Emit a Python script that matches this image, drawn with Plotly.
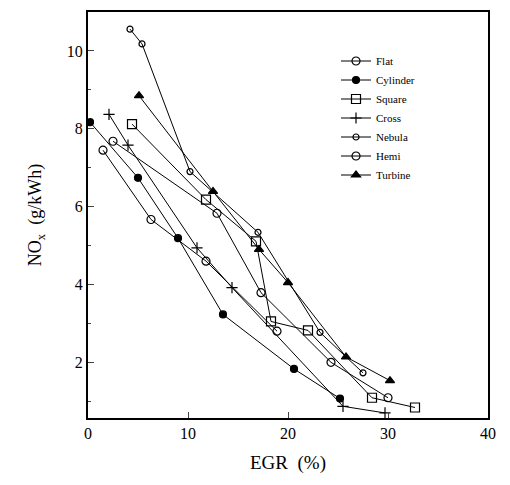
import plotly.graph_objects as go

flat_x = [1.5, 6.3, 11.8, 18.9]
flat_y = [7.45, 5.67, 4.6, 2.8]
cyl_x = [0.2, 5.0, 9.0, 13.5, 20.6, 25.2]
cyl_y = [8.17, 6.74, 5.19, 3.23, 1.83, 1.07]
sq_x = [4.4, 11.8, 16.8, 18.3, 22.0, 28.4, 32.7]
sq_y = [8.12, 6.18, 5.11, 3.05, 2.82, 1.09, 0.84]
cross_x = [2.1, 4.0, 10.9, 14.4, 25.5, 29.7]
cross_y = [8.37, 7.58, 4.94, 3.92, 0.87, 0.70]
neb_x = [4.2, 5.4, 10.2, 17.0, 23.2, 27.5]
neb_y = [10.56, 10.18, 6.9, 5.34, 2.77, 1.73]
hemi_x = [2.5, 12.9, 17.3, 24.3, 30.0]
hemi_y = [7.68, 5.83, 3.79, 2.0, 1.09]
turb_x = [5.1, 12.5, 17.1, 20.0, 25.8, 30.2]
turb_y = [8.85, 6.39, 4.9, 4.05, 2.14, 1.53]

x_ticks = [0, 10, 20, 30, 40]
y_ticks = [2, 4, 6, 8, 10]

series = [
    ("Flat", flat_x, flat_y, dict(symbol="circle-open", size=8)),
    ("Cylinder", cyl_x, cyl_y, dict(symbol="circle", size=7)),
    ("Square", sq_x, sq_y, dict(symbol="square-open", size=9)),
    ("Cross", cross_x, cross_y, dict(symbol="cross-thin-open", size=8)),
    ("Nebula", neb_x, neb_y, dict(symbol="circle-open", size=6)),
    ("Hemi", hemi_x, hemi_y, dict(symbol="circle-open", size=8)),
    ("Turbine", turb_x, turb_y, dict(symbol="triangle-up", size=8)),
]

fig = go.Figure()
for name, xs, ys, mk in series:
    fig.add_trace(go.Scatter(
        x=xs, y=ys, name=name, mode="lines+markers",
        line=dict(color="black", width=1),
        marker=dict(color="black", line=dict(color="black", width=1.2), **mk),
    ))

font = "Liberation Serif, Times New Roman, serif"
fig.update_layout(
    width=502, height=477,
    margin=dict(l=80, r=22, t=2, b=67),
    paper_bgcolor="white", plot_bgcolor="white",
    font=dict(family=font, color="black", size=16),
    showlegend=True,
    legend=dict(x=0.62, y=0.915, xanchor="left", yanchor="top",
                font=dict(size=11, family=font), bgcolor="rgba(0,0,0,0)",
                tracegroupgap=0, itemwidth=30),
    xaxis=dict(range=[0, 40], tickvals=x_ticks, ticks="inside", ticklen=6,
               showline=True, linecolor="black", linewidth=2, mirror=True,
               showgrid=False, zeroline=False,
               title=dict(text="EGR  (%)", font=dict(size=19), standoff=14),
               tickfont=dict(size=16)),
    yaxis=dict(range=[0.57, 11.0], tickvals=y_ticks, ticks="inside", ticklen=6,
               showline=True, linecolor="black", linewidth=2, mirror=True,
               showgrid=False, zeroline=False,
               minor=dict(tickvals=[1, 3, 5, 7, 9], ticks="inside", ticklen=3),
               title=dict(text="NO<sub>x</sub>  (g/kWh)", font=dict(size=18), standoff=20),
               tickfont=dict(size=16)),
)

fig.write_html("out.html")
